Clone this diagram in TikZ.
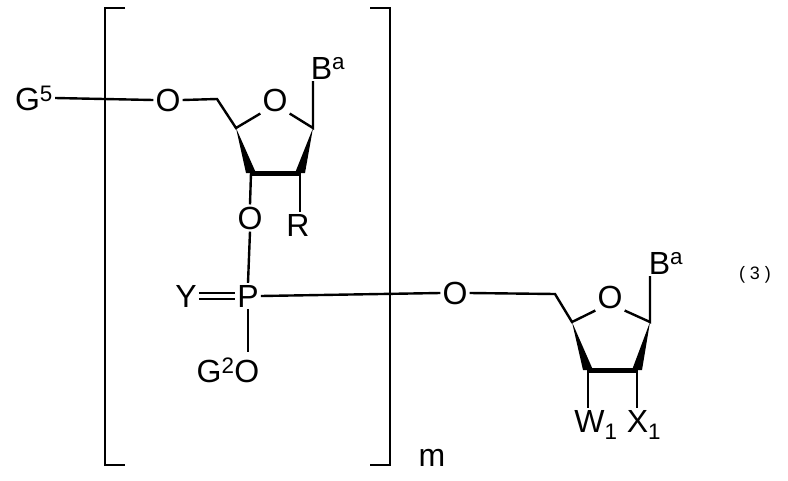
\documentclass[tikz,border=0pt]{standalone}
\usepackage{fontspec}
\setmainfont{Liberation Sans}
\usetikzlibrary{calc}
\begin{document}
\begin{tikzpicture}[x=1pt,y=-1pt,line width=2.4pt,
  lbl/.style={font=\fontsize{32}{32}\selectfont,inner sep=1pt},
  wedge/.style={fill=black,draw=none}]
\useasboundingbox (0,0) rectangle (788,480);
% brackets
\draw (125,8) -- (105,8) -- (105,465) -- (125,465);
\draw (370,8) -- (390,8) -- (390,465) -- (370,465);
\node[lbl] (m) at (432,458) {m};
\node[font=\fontsize{18}{18}\selectfont] (n3) at (755,275) {( 3 )};
% first nucleoside
\node[lbl] (G5) at (34,98) {G\textsuperscript{5}};
\node[lbl] (O5) at (168,100) {O};
\coordinate (C5) at (217,99);
\coordinate (C4) at (236,128);
\node[lbl] (Or) at (275,100) {O};
\coordinate (C1) at (313,128);
\coordinate (C3) at (251,173);
\coordinate (C2) at (300,173);
\node[lbl] (B1) at (328,68) {B\textsuperscript{a}};
\node[lbl] (O3) at (250,218) {O};
\node[lbl] (R) at (298,225) {R};
\draw (G5.east) -- (O5.west);
\draw (O5.east) -- (C5) -- (C4) -- (Or.south west);
\draw (Or.south east) -- (C1) -- (C1 |- B1.south);
\fill[wedge] (C4) -- ($(C3)+(-5,0)$) -- ($(C3)+(5,0)$) -- cycle;
\fill[wedge] (C1) -- ($(C2)+(-5,0)$) -- ($(C2)+(5,0)$) -- cycle;
\draw[line width=5pt] (C3) -- (C2);
\draw (C3) -- (O3.north);
\draw (C2) -- (R.north -| C2);
% phosphate
\node[lbl] (P) at (248,296) {P};
\node[lbl] (Y) at (186,296) {Y};
\node[lbl] (G2O) at (228,370) {G\textsuperscript{2}O};
\draw (O3.south) -- (P.north);
\draw ($(Y.east)+(0,-3)$) -- ($(P.west)+(0,-3)$);
\draw ($(Y.east)+(0,3)$) -- ($(P.west)+(0,3)$);
\draw (P.south) -- (248,352);
\node[lbl] (O2) at (455,293) {O};
\draw (P.east) -- (O2.west);
% second nucleoside
\coordinate (D5) at (555,294);
\coordinate (D4) at (572,322);
\node[lbl] (Or2) at (610,297) {O};
\coordinate (D1) at (650,322);
\coordinate (D3) at (588,370);
\coordinate (D2) at (637,370);
\node[lbl] (B2) at (666,263) {B\textsuperscript{a}};
\node[lbl] (W) at (596,425) {W\textsubscript{1}};
\node[lbl] (X) at (644,425) {X\textsubscript{1}};
\draw (O2.east) -- (D5) -- (D4) -- (Or2.south west);
\draw (Or2.south east) -- (D1) -- (D1 |- B2.south);
\fill[wedge] (D4) -- ($(D3)+(-5,0)$) -- ($(D3)+(5,0)$) -- cycle;
\fill[wedge] (D1) -- ($(D2)+(-5,0)$) -- ($(D2)+(5,0)$) -- cycle;
\draw[line width=5pt] (D3) -- (D2);
\draw (D3) -- (D3 |- W.north);
\draw (D2) -- (D2 |- X.north);
\end{tikzpicture}
\end{document}
